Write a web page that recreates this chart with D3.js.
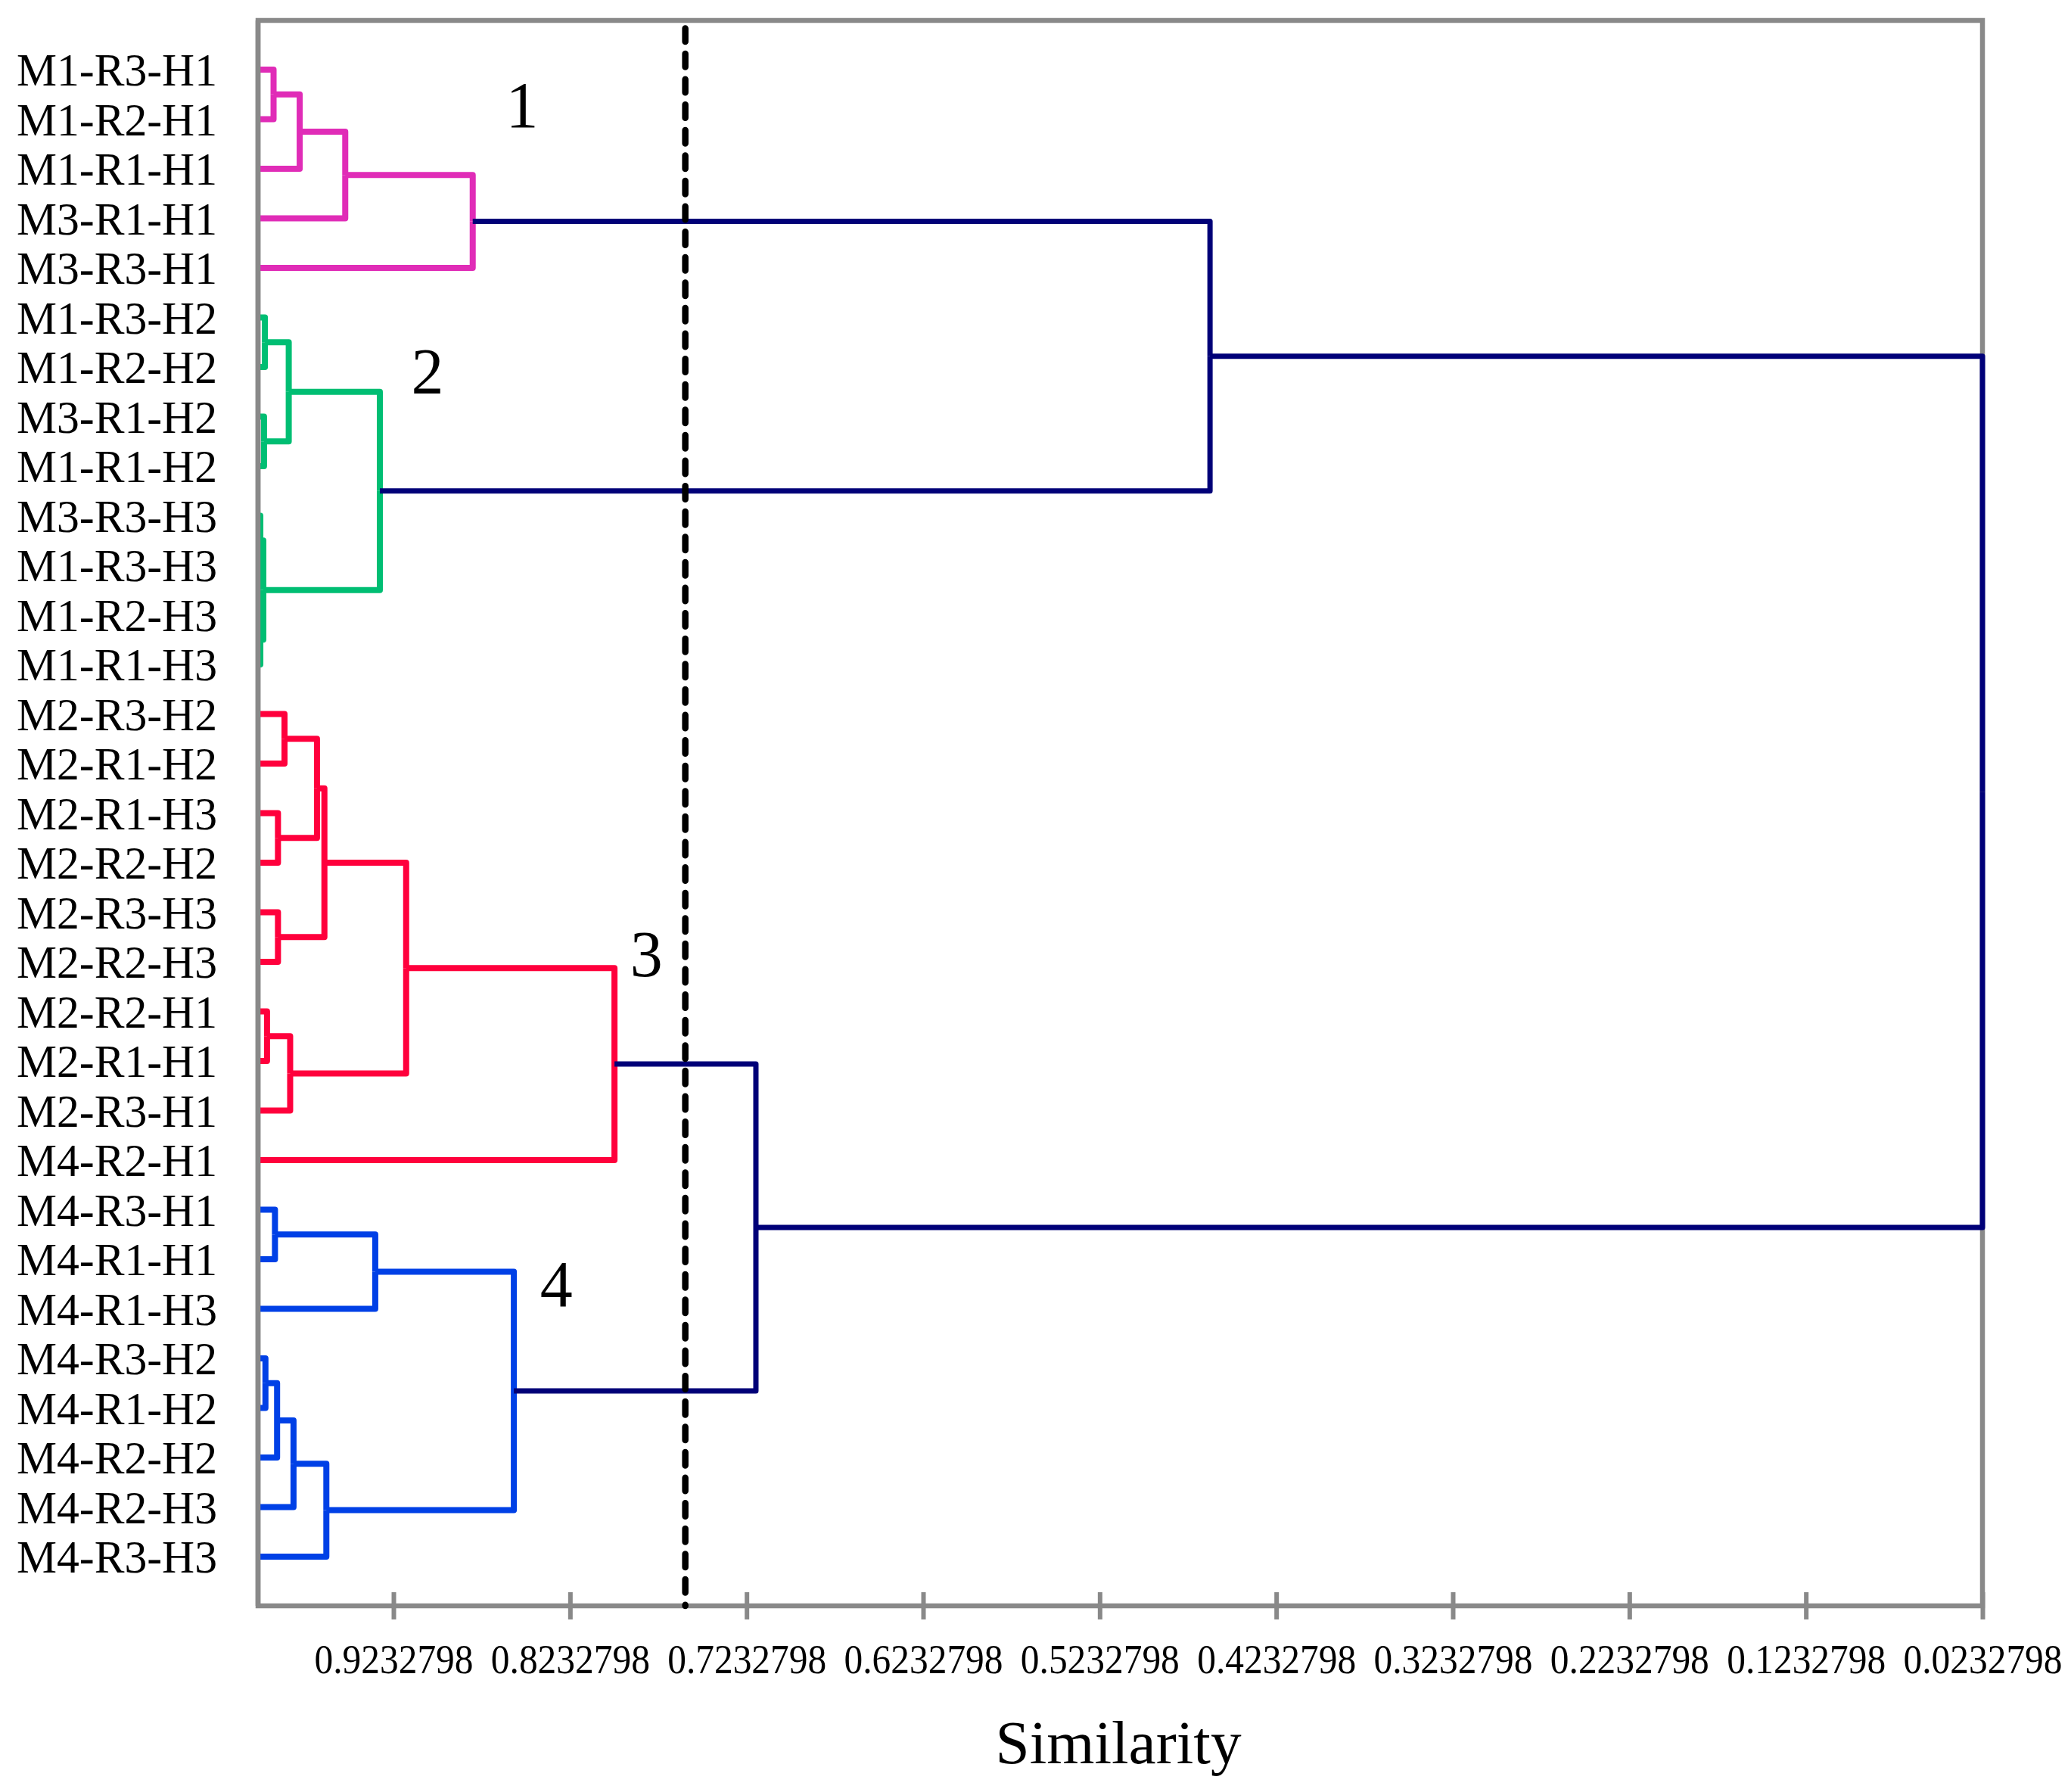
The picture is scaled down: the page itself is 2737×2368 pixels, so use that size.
<!DOCTYPE html>
<html>
<head>
<meta charset="utf-8">
<script src="https://cdn.jsdelivr.net/npm/d3@7"></script>
<style>
    body { margin: 0; background: #fff; }
    text { font-family: "Liberation Serif", "Times New Roman", serif; fill: #000; }
</style>
</head>
<body>
<div id="chart"></div>
<script>
    'use strict';

    // leaves, top to bottom
    var leaves = [
        "M1-R3-H1", "M1-R2-H1", "M1-R1-H1", "M3-R1-H1", "M3-R3-H1",
        "M1-R3-H2", "M1-R2-H2", "M3-R1-H2", "M1-R1-H2",
        "M3-R3-H3", "M1-R3-H3", "M1-R2-H3", "M1-R1-H3",
        "M2-R3-H2", "M2-R1-H2", "M2-R1-H3", "M2-R2-H2", "M2-R3-H3", "M2-R2-H3",
        "M2-R2-H1", "M2-R1-H1", "M2-R3-H1", "M4-R2-H1",
        "M4-R3-H1", "M4-R1-H1", "M4-R1-H3", "M4-R3-H2", "M4-R1-H2",
        "M4-R2-H2", "M4-R2-H3", "M4-R3-H3"
    ];

    // cluster number of each leaf (same order as leaves)
    var leafCluster = [
        1, 1, 1, 1, 1,
        2, 2, 2, 2, 2, 2, 2, 2,
        3, 3, 3, 3, 3, 3, 3, 3, 3, 3,
        4, 4, 4, 4, 4, 4, 4, 4
    ];

    // merges: [id, left, right, similarity]
    var merges = [
        ["A1", "M1-R3-H1", "M1-R2-H1", 0.9912],
        ["A2", "A1", "M1-R1-H1", 0.9764],
        ["A3", "A2", "M3-R1-H1", 0.9506],
        ["A4", "A3", "M3-R3-H1", 0.8784],
        ["B1", "M1-R3-H2", "M1-R2-H2", 0.9961],
        ["B2", "M3-R1-H2", "M1-R1-H2", 0.9966],
        ["B3", "B1", "B2", 0.9826],
        ["B4", "M3-R3-H3", "M1-R3-H3", 0.9987],
        ["B5", "M1-R2-H3", "M1-R1-H3", 0.9987],
        ["B6", "B4", "B5", 0.9970],
        ["B7", "B3", "B6", 0.9310],
        ["C1", "M2-R3-H2", "M2-R1-H2", 0.9850],
        ["C2", "M2-R1-H3", "M2-R2-H2", 0.9887],
        ["C3", "C1", "C2", 0.9666],
        ["C4", "M2-R3-H3", "M2-R2-H3", 0.9887],
        ["C5", "C3", "C4", 0.9624],
        ["C6", "M2-R2-H1", "M2-R1-H1", 0.9949],
        ["C7", "C6", "M2-R3-H1", 0.9818],
        ["C8", "C5", "C7", 0.9161],
        ["C9", "C8", "M4-R2-H1", 0.7981],
        ["D1", "M4-R3-H1", "M4-R1-H1", 0.9904],
        ["D2", "D1", "M4-R1-H3", 0.9336],
        ["D3", "M4-R3-H2", "M4-R1-H2", 0.9958],
        ["D4", "D3", "M4-R2-H2", 0.9892],
        ["D5", "D4", "M4-R2-H3", 0.9799],
        ["D6", "D5", "M4-R3-H3", 0.9613],
        ["D7", "D2", "D6", 0.8551],
        ["E1", "A4", "B7", 0.4608],
        ["E2", "C9", "D7", 0.7180],
        ["E3", "E1", "E2", 0.0232798]
    ];

    var cutOff = 0.758;

    var tickValues = [0.9232798, 0.8232798, 0.7232798, 0.6232798, 0.5232798,
        0.4232798, 0.3232798, 0.2232798, 0.1232798, 0.0232798];
    var tickLabels = ["0.9232798", "0.8232798", "0.7232798", "0.6232798", "0.5232798",
        "0.4232798", "0.3232798", "0.2232798", "0.1232798", "0.0232798"];

    // cluster numbers written on the chart: [text, similarity, row]
    var clusterNames = [
        ["1", 0.8504, 0.72],
        ["2", 0.9040, 6.09],
        ["3", 0.7800, 17.85],
        ["4", 0.8310, 24.50]
    ];

    var clusterColors = {1: "#e02cb7", 2: "#00be73", 3: "#ff003c", 4: "#0040e6"};
    var linkColor = "#000078";
    var frameColor = "#898989";

    var width = 2737, height = 2368;
    var margin = {top: 27, right: 117, bottom: 246, left: 341};

    var svg = d3.select("#chart")
        .append("svg")
        .attr("width", width)
        .attr("height", height);

    var x = d3.scaleLinear()
        .domain([1, 0.0232798])
        .range([margin.left, width - margin.right]);

    var row = d3.scaleLinear()
        .domain([0, leaves.length - 1])
        .range([92, 2057]);

    var plotBottom = height - margin.bottom;

    // build node table
    var nodes = {};
    leaves.forEach(function (name, i) {
        nodes[name] = {sim: 1, row: i, cluster: leafCluster[i]};
    });
    merges.forEach(function (m) {
        var a = nodes[m[1]], b = nodes[m[2]];
        nodes[m[0]] = {
            sim: m[3],
            row: (a.row + b.row) / 2,
            cluster: a.cluster === b.cluster ? a.cluster : null,
            children: [a, b]
        };
    });

    function inCluster(node) {
        return node.sim > cutOff && node.cluster;
    }

    // elbow links, child -> parent, coloured by the parent
    var links = [];
    merges.forEach(function (m) {
        var p = nodes[m[0]];
        p.children.forEach(function (c) {
            links.push({parent: p, child: c});
        });
    });

    // frame
    svg.append("rect")
        .attr("x", margin.left)
        .attr("y", margin.top)
        .attr("width", width - margin.right - margin.left)
        .attr("height", plotBottom - margin.top)
        .attr("fill", "none")
        .attr("stroke", frameColor)
        .attr("stroke-width", 6.5);

    var g = svg.append("g");

    g.selectAll("path.link")
        .data(links)
        .enter()
        .append("path")
        .attr("class", "link")
        .attr("fill", "none")
        .attr("stroke", function (d) {
            return inCluster(d.parent) ? clusterColors[d.parent.cluster] : linkColor;
        })
        .attr("stroke-width", function (d) { return inCluster(d.parent) ? 8 : 7; })
        .attr("stroke-linejoin", "round")
        .attr("d", function (d) {
            return "M" + x(d.child.sim) + "," + row(d.child.row) +
                "H" + x(d.parent.sim) +
                "V" + row(d.parent.row);
        });

    // left edge of the frame sits over the leaf stubs
    svg.append("line")
        .attr("x1", margin.left)
        .attr("x2", margin.left)
        .attr("y1", margin.top)
        .attr("y2", plotBottom)
        .attr("stroke", frameColor)
        .attr("stroke-width", 6.5);

    // cut-off line
    g.append("line")
        .attr("x1", x(cutOff))
        .attr("x2", x(cutOff))
        .attr("y1", 37.5)
        .attr("y2", plotBottom)
        .attr("stroke", "#000")
        .attr("stroke-width", 8.5)
        .attr("stroke-linecap", "round")
        .attr("stroke-dasharray", "17.5 16.1");

    // bottom axis
    var axis = svg.append("g")
        .attr("transform", "translate(0," + plotBottom + ")")
        .call(d3.axisBottom(x)
            .tickValues(tickValues)
            .tickSize(18)
            .tickSizeOuter(0)
            .tickFormat(function (d, i) { return tickLabels[i]; }));

    axis.select(".domain").remove();
    axis.selectAll(".tick line")
        .attr("y1", -18)
        .attr("y2", 18)
        .attr("stroke", frameColor)
        .attr("stroke-width", 6);
    axis.selectAll(".tick text")
        .attr("y", 89)
        .attr("dy", null)
        .attr("font-size", 54)
        .attr("font-family", "Liberation Serif, serif")
        .attr("fill", "#000")
        .attr("transform", "scale(0.915,1)");

    // leaf labels
    svg.selectAll("text.leaf")
        .data(leaves)
        .enter()
        .append("text")
        .attr("class", "leaf")
        .attr("x", 22)
        .attr("y", function (d, i) { return row(i) + 21; })
        .attr("font-size", 62)
        .attr("textLength", 265)
        .attr("lengthAdjust", "spacingAndGlyphs")
        .text(function (d) { return d; });

    // cluster numbers
    svg.selectAll("text.cluster")
        .data(clusterNames)
        .enter()
        .append("text")
        .attr("class", "cluster")
        .attr("x", function (d) { return x(d[1]); })
        .attr("y", function (d) { return row(d[2]); })
        .attr("dy", "0.34em")
        .attr("text-anchor", "middle")
        .attr("font-size", 86)
        .text(function (d) { return d[0]; });

    // axis title
    svg.append("text")
        .attr("x", 1478)
        .attr("y", 2330)
        .attr("text-anchor", "middle")
        .attr("font-size", 80)
        .attr("textLength", 325)
        .attr("lengthAdjust", "spacingAndGlyphs")
        .text("Similarity");
</script>
</body>
</html>
